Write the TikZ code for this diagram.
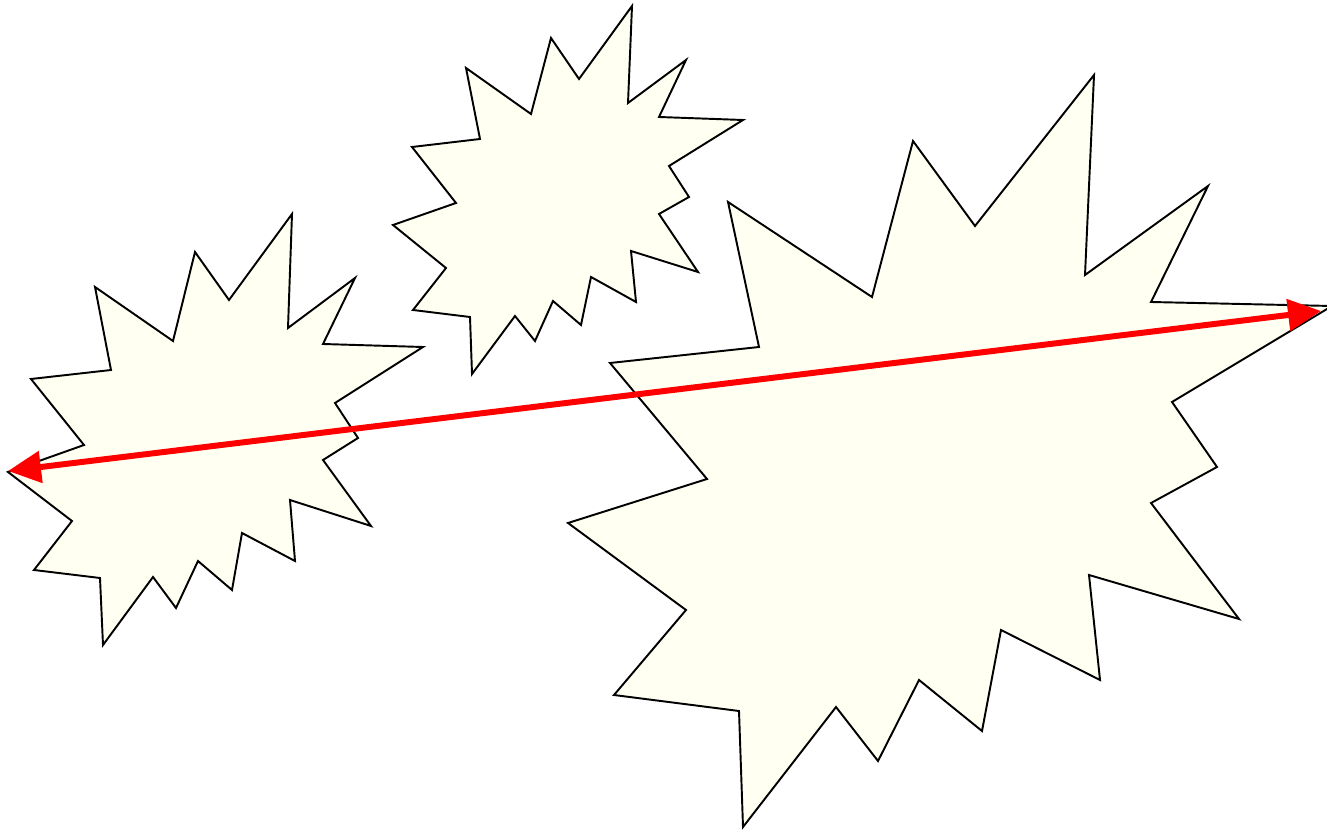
\documentclass[tikz,border=0pt]{standalone}
\usepackage{xcolor}
\usetikzlibrary{arrows.meta}
\definecolor{burstfill}{HTML}{FFFFF2}
\definecolor{arrowred}{HTML}{FF0000}

\begin{document}
\begin{tikzpicture}[
  x=0.02cm, y=-0.02cm,
  burst/.style={draw=black, fill=burstfill, line width=1.1pt, line join=miter},
  arrow/.style={{Triangle[length=0.66cm, width=0.62cm]}-{Triangle[length=0.66cm, width=0.62cm]},
                line width=3.4pt, color=arrowred},
]
  \useasboundingbox (0,0) rectangle (1327,830);

  % left burst
  \draw[burst] (31,379) -- (111,370) -- (95,287) -- (173,341) -- (195,252) -- (229,300)
    -- (292,214) -- (288,328) -- (355,278) -- (323,344) -- (423,347) -- (335,403)
    -- (358,438) -- (323,460) -- (371,526) -- (290,500) -- (295,561) -- (242,533)
    -- (232,590) -- (198,561) -- (176,608) -- (153,577) -- (103,645) -- (100,578)
    -- (34,570) -- (72,521) -- (8,472) -- (84,445) -- cycle;

  % top burst
  \draw[burst] (412,147) -- (480,139) -- (466,68) -- (531,114) -- (551,38) -- (579,79)
    -- (632,6) -- (628,103) -- (686,60) -- (659,117) -- (743,120) -- (669,166)
    -- (689,197) -- (659,214) -- (698,272) -- (631,251) -- (636,302) -- (591,277)
    -- (581,325) -- (553,301) -- (535,341) -- (515,316) -- (472,374) -- (470,317)
    -- (413,310) -- (446,268) -- (393,225) -- (456,203) -- cycle;

  % big burst
  \draw[burst] (610,363) -- (759,347) -- (728,202) -- (872,297) -- (913,141) -- (975,226)
    -- (1094,75) -- (1085,275) -- (1208,186) -- (1151,302) -- (1332,306) -- (1172,402)
    -- (1217,467) -- (1151,503) -- (1239,619) -- (1089,575) -- (1100,680) -- (1001,630)
    -- (982,731) -- (919,680) -- (878,761) -- (836,707) -- (743,827) -- (739,711)
    -- (614,695) -- (686,610) -- (568,523) -- (707,479) -- cycle;

  \coordinate (west) at (8,471);
  \coordinate (east) at (1321,311);
  \draw[arrow] (west) -- (east);
\end{tikzpicture}
\end{document}
